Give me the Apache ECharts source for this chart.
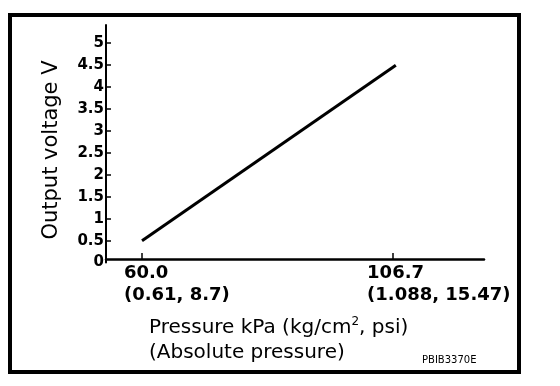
<!DOCTYPE html>
<html>
<head>
<meta charset="utf-8">
<script src="https://cdn.jsdelivr.net/npm/echarts@6/dist/echarts.min.js"></script>
<style>
html,body{margin:0;padding:0;background:#fff;}
#chart{width:560px;height:386px;}
</style>
</head>
<body>
<div id="chart"></div>
<script>
// ---- data ----
const xTickValues = [60, 106.7];
const xTickLine1 = ['60.0', '106.7'];
const xTickLine2 = ['(0.61, 8.7)', '(1.088, 15.47)'];
const yTickValues = [0, 0.5, 1, 1.5, 2, 2.5, 3, 3.5, 4, 4.5, 5];
const yTickLabels = ['0', '0.5', '1', '1.5', '2', '2.5', '3', '3.5', '4', '4.5', '5'];
const linePressure = [60, 107.2];
const lineVoltage = [0.5, 4.5];
const yTitle = 'Output voltage V';
const xTitle1a = 'Pressure kPa (kg/cm';
const xTitle1sup = '2';
const xTitle1b = ', psi)';
const xTitle2 = '(Absolute pressure)';
const codeText = 'PBIB3370E';

const labelOffsets = [[-18, 0], [-26, 0]];

const chart = echarts.init(document.getElementById('chart'), null, {renderer: 'canvas'});

const option = {
  animation: false,
  backgroundColor: '#ffffff',
  grid: {left: 106, right: 76, top: 25, bottom: 123.4, containLabel: false},
  xAxis: {
    type: 'value',
    min: 53.3,
    max: 123.6,
    offset: -3.6,
    axisLine: {show: true, onZero: false, lineStyle: {color: '#000', width: 2.5}},
    axisTick: {show: true, inside: true, length: 6, customValues: xTickValues, lineStyle: {color: '#000', width: 1.5}},
    axisLabel: {show: false},
    splitLine: {show: false}
  },
  yAxis: {
    type: 'value',
    min: 0,
    max: 5.416,
    axisLine: {show: true, onZero: false, lineStyle: {color: '#000', width: 2}},
    axisTick: {show: true, inside: true, length: 5, customValues: yTickValues.slice(1), lineStyle: {color: '#000', width: 1.5}},
    axisLabel: {
      show: true,
      customValues: yTickValues,
      margin: 2,
      color: '#000',
      fontFamily: 'DejaVu Sans',
      fontWeight: 'bold',
      fontSize: 15,
      formatter: function (v) {
        const i = yTickValues.indexOf(v);
        return i >= 0 ? yTickLabels[i] : '';
      }
    },
    splitLine: {show: false}
  },
  series: [
    {
      type: 'line',
      data: linePressure.map((p, i) => [p, lineVoltage[i]]),
      showSymbol: false,
      symbol: 'none',
      lineStyle: {color: '#000', width: 3},
      silent: true
    },
    {
      type: 'scatter',
      symbolSize: 0.1,
      itemStyle: {color: 'rgba(0,0,0,0)', opacity: 1},
      silent: true,
      data: xTickValues.map((v, i) => ({
        value: [v, 0],
        label: {
          show: true,
          position: [0, 0],
          offset: labelOffsets[i],
          align: 'left',
          verticalAlign: 'top',
          color: '#000',
          opacity: 1,
          fontFamily: 'DejaVu Sans',
          fontWeight: 'bold',
          fontSize: 18,
          lineHeight: 22,
          formatter: xTickLine1[i] + '\n' + xTickLine2[i]
        }
      }))
    }
  ],
  graphic: [
    {
      type: 'rect',
      shape: {x: 10, y: 15, width: 509, height: 357},
      style: {fill: 'none', stroke: '#000', lineWidth: 4},
      silent: true
    },
    {
      type: 'text',
      x: 52, y: 150,
      rotation: Math.PI / 2,
      style: {
        text: yTitle,
        fill: '#000',
        font: '21px "DejaVu Sans"',
        align: 'center',
        verticalAlign: 'middle'
      }
    },
    {
      type: 'text',
      x: 149, y: 328,
      style: {
        text: '{n|' + xTitle1a + '}{s|' + xTitle1sup + '}{n|' + xTitle1b + '}',
        align: 'left',
        verticalAlign: 'middle',
        rich: {
          n: {fontFamily: 'DejaVu Sans', fontSize: 20, lineHeight: 24, fill: '#000', color: '#000'},
          s: {fontFamily: 'DejaVu Sans', fontSize: 12, lineHeight: 10, verticalAlign: 'top', fill: '#000', color: '#000'}
        }
      }
    },
    {
      type: 'text',
      x: 149, y: 353,
      style: {
        text: xTitle2,
        fill: '#000',
        font: '20px "DejaVu Sans"',
        align: 'left',
        verticalAlign: 'middle'
      }
    },
    {
      type: 'text',
      x: 422, y: 360,
      style: {
        text: codeText,
        fill: '#000',
        font: '10px "DejaVu Sans"',
        align: 'left',
        verticalAlign: 'middle'
      }
    }
  ]
};

chart.setOption(option);
</script>
</body>
</html>
